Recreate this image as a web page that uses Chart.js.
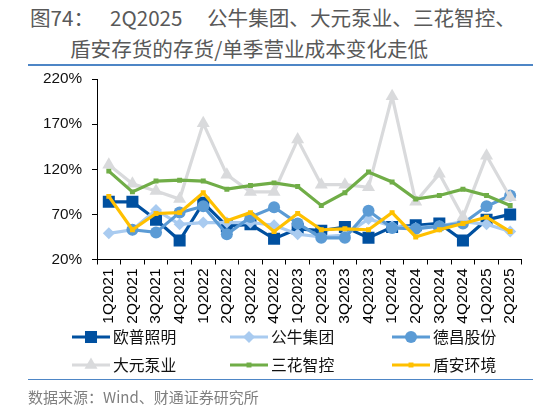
<!DOCTYPE html>
<html><head><meta charset="utf-8">
<script src="https://cdn.jsdelivr.net/npm/chart.js@4.4.1/dist/chart.umd.min.js"></script>
<style>
html,body{margin:0;padding:0;background:#fff;width:533px;height:409px;overflow:hidden;position:relative;font-family:"Noto Sans CJK SC","Noto Sans",sans-serif;}
.t{position:absolute;font-size:20.6px;line-height:30px;color:#595959;white-space:nowrap;}
.rule{position:absolute;left:28px;width:505px;height:1.5px;background:#4E86C6;}
#wrap{position:absolute;left:0;top:60px;width:533px;height:270px;}
.lg{position:absolute;font-size:15.8px;color:#111;white-space:nowrap;line-height:20px;}
.lg svg{position:absolute;top:0;}
.src{position:absolute;left:28px;top:387px;font-size:15px;color:#7f7f7f;line-height:20px;white-space:nowrap;}
</style></head>
<body>
<div class="t" style="left:30px;top:2px;">图74：</div>
<div class="t" style="left:110px;top:2px;">2Q2025</div>
<div class="t" style="left:207px;top:2px;">公牛集团、大元泵业、三花智控、</div>
<div class="t" style="left:70px;top:33px;">盾安存货的存货/单季营业成本变化走低</div>
<div class="rule" style="top:64px;"></div>
<div id="wrap"><canvas id="c"></canvas></div>
<div id="legend"></div>
<div class="rule" style="top:378.5px;"></div>
<div class="src">数据来源：Wind、财通证券研究所</div>
<script>
const categories = ['1Q2021','2Q2021','3Q2021','4Q2021','1Q2022','2Q2022','3Q2022','4Q2022','1Q2023','2Q2023','3Q2023','4Q2023','1Q2024','2Q2024','3Q2024','4Q2024','1Q2025','2Q2025'];
const seriesNames = ['欧普照明','公牛集团','德昌股份','大元泵业','三花智控','盾安环境'];
const oupu    = [84, 84, 64, 41, 83, 57, 59, 43, 54, 52, 56, 44, 56, 58, 60, 41, 64, 70];
const gongniu = [49, 53, 75, 59, 61, 61, 61, 58, 48, 45, 47, 65, 57, 55, 57, 62, 59, 51];
const dechang = [null, 53, 50, 72, 79, 48, 67, 78, 60, 44, 44, 74, 55, 54, 57, 60, 79, 91];
const dayuan  = [125, 104, 96, 87, 171, 114, 95, 95, 153, 103, 103, 100, 201, 84, 115, 67, 135, 89];
const sanhua  = [118, 95, 107, 108, 107, 98, 102, 105, 101, 80, 94, 117, 106, 87, 91, 98, 91, 80];
const dunan   = [90, 53, 71, 72, 94, 63, 72, 51, 71, 53, 54, 53, 72, 45, 53, 60, 67, 51];
const yTicks = [20, 70, 120, 170, 220];

const styles = [
  {color:'#0050A0', style:'rect', r:8.5},
  {color:'#A9CBF0', style:'rectRot', r:6},
  {color:'#5B9BD5', style:'circle', r:6},
  {color:'#D9DADC', style:'triangle', r:7.5},
  {color:'#70AD47', style:'rect', r:3.5},
  {color:'#FFC000', style:'rect', r:3.5}
];
const values = [oupu, gongniu, dechang, dayuan, sanhua, dunan];

const datasets = values.map((v,i)=>({
  label: seriesNames[i],
  data: v,
  borderColor: styles[i].color,
  backgroundColor: styles[i].color,
  pointBackgroundColor: styles[i].color,
  pointBorderColor: styles[i].color,
  pointStyle: styles[i].style,
  pointRadius: styles[i].r,
  pointBorderWidth: 0,
  borderWidth: 3.2,
  tension: 0,
  spanGaps: false,
  order: 5 - i
}));

new Chart(document.getElementById('c'), {
  type: 'line',
  data: { labels: categories, datasets },
  options: {
    responsive: true,
    maintainAspectRatio: false,
    animation: false,
    events: [],
    layout: { padding: { top: 17.5, left: 0, right: 0, bottom: 0 } },
    plugins: { legend: { display: false }, tooltip: { enabled: false } },
    scales: {
      x: {
        offset: true,
        grid: { offset: true, drawOnChartArea: false, drawTicks: true, tickLength: 5, color: '#000', lineWidth: 1 },
        border: { color: '#000', width: 1 },
        ticks: { minRotation: 90, maxRotation: 90, autoSkip: false, color: '#000', padding: 4,
                 font: { family: '"Liberation Sans", Arial, sans-serif', size: 15.5 } },
        afterFit: s => { s.height = 70.5; }
      },
      y: {
        min: 20, max: 220,
        afterBuildTicks: s => { s.ticks = yTicks.map(v => ({ value: v })); },
        grid: { drawOnChartArea: false, drawTicks: true, tickLength: 5, color: '#000' },
        border: { color: '#000', width: 1 },
        ticks: { color: '#111', padding: 10, callback: v => v + '%',
                 font: { family: '"Liberation Sans", Arial, sans-serif', size: 15.3 } },
        afterFit: s => { s.width = 97; }
      }
    }
  }
});

// HTML legend built from the same datasets
const lg = document.getElementById('legend');
const colX = [72, 230, 392];
const rowY = [337, 365];
seriesNames.forEach((name, i) => {
  const st = styles[i];
  const x = colX[i % 3], y = rowY[Math.floor(i / 3)];
  const d = document.createElement('div');
  d.className = 'lg';
  d.style.left = x + 'px';
  d.style.top = (y - 10) + 'px';
  let m = '';
  const cx = 19, cy = 10;
  if (st.style === 'rect') { const s = st.r * Math.SQRT2; m = `<rect x="${cx - s/2}" y="${cy - s/2}" width="${s}" height="${s}" fill="${st.color}"/>`; }
  else if (st.style === 'rectRot') { const r = st.r; m = `<polygon points="${cx},${cy-r} ${cx+r},${cy} ${cx},${cy+r} ${cx-r},${cy}" fill="${st.color}"/>`; }
  else if (st.style === 'circle') { m = `<circle cx="${cx}" cy="${cy}" r="${st.r}" fill="${st.color}"/>`; }
  else { const r = st.r; m = `<polygon points="${cx},${cy-r} ${cx+r*0.866},${cy+r*0.5} ${cx-r*0.866},${cy+r*0.5}" fill="${st.color}"/>`; }
  d.innerHTML = `<svg width="38" height="20" style="left:0"><line x1="0" y1="10" x2="38" y2="10" stroke="${st.color}" stroke-width="3"/>${m}</svg><span style="position:absolute;left:41px;top:0;">${name}</span>`;
  lg.appendChild(d);
});
</script>
</body></html>
